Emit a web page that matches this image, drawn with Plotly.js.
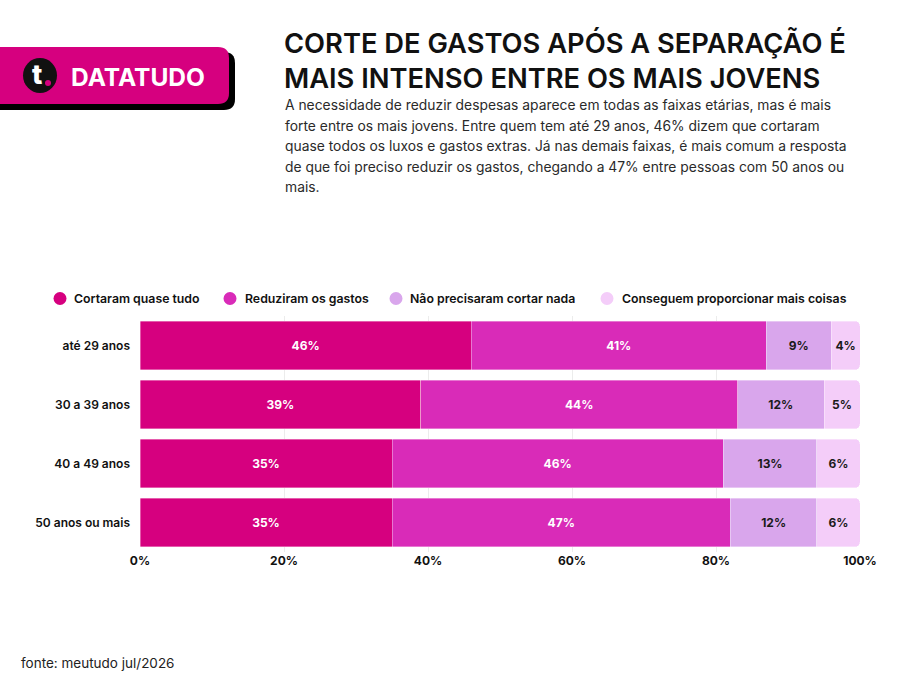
<!DOCTYPE html>
<html><head><meta charset="utf-8">
<script src="https://cdn.plot.ly/plotly-3.0.1.min.js"></script>
<style>body{margin:0;background:#fff}#chart{width:910px;height:677px}</style>
</head><body><div id="chart"></div>
<script>
const categories = ["até 29 anos", "30 a 39 anos", "40 a 49 anos", "50 anos ou mais"];
const seriesNames = ["Cortaram quase tudo", "Reduziram os gastos", "Não precisaram cortar nada", "Conseguem proporcionar mais coisas"];
const cortaram = [46, 39, 35, 35];
const reduziram = [41, 44, 46, 47];
const naoPrecisaram = [9, 12, 13, 12];
const conseguem = [4, 5, 6, 6];
const xTickVals = [0, 20, 40, 60, 80, 100];
const xTickText = ["0%", "20%", "40%", "60%", "80%", "100%"];
const titleText = "CORTE DE GASTOS APÓS A SEPARAÇÃO É<br>MAIS INTENSO ENTRE OS MAIS JOVENS";
const subtitleLines = [
  "A necessidade de reduzir despesas aparece em todas as faixas etárias, mas é mais",
  "forte entre os mais jovens. Entre quem tem até 29 anos, 46% dizem que cortaram",
  "quase todos os luxos e gastos extras. Já nas demais faixas, é mais comum a resposta",
  "de que foi preciso reduzir os gastos, chegando a 47% entre pessoas com 50 anos ou",
  "mais."
];
const sourceText = "fonte: meutudo jul/2026";
const brandText = "DATATUDO";

const colors = ["#D6007F", "#D92BB8", "#D9A6EC", "#F4CDF9"];
const textColors = ["#ffffff", "#ffffff", "#1a1a1a", "#1a1a1a"];
const allSeries = [cortaram, reduziram, naoPrecisaram, conseguem];

const W = 910, H = 677, ML = 140, MR = 50, MT = 316, MB = 125;
const PW = W - ML - MR, PH = H - MT - MB;
const xp = px => (px - ML) / PW;
const yp = py => (H - MB - py) / PH;

const FONT = "Inter, 'Noto Sans', sans-serif";

const traces = allSeries.map((vals, i) => ({
  type: "bar",
  orientation: "h",
  name: seriesNames[i],
  y: categories,
  x: vals,
  text: vals.map(v => v + "%"),
  textposition: "inside",
  insidetextanchor: "middle",
  textangle: 0,
  constraintext: "none",
  textfont: {family: FONT, size: 12, color: textColors[i], weight: 700},
  marker: {color: colors[i], line: {color: "rgba(255,255,255,0.6)", width: 0.6}},
  hoverinfo: "skip",
  showlegend: false
}));

const shapes = [];
const annotations = [];

function rrectPath(x0, y0, x1, y1, r) {
  const X = v => xp(v), Y = v => yp(v);
  return `M ${X(x0)} ${Y(y0)} L ${X(x1 - r)} ${Y(y0)} Q ${X(x1)} ${Y(y0)} ${X(x1)} ${Y(y0 + r)} L ${X(x1)} ${Y(y1 - r)} Q ${X(x1)} ${Y(y1)} ${X(x1 - r)} ${Y(y1)} L ${X(x0)} ${Y(y1)} Z`;
}
shapes.push({type: "path", xref: "paper", yref: "paper", path: rrectPath(-10, 52, 235, 110, 11), fillcolor: "#000", line: {width: 0}, layer: "above"});
shapes.push({type: "path", xref: "paper", yref: "paper", path: rrectPath(-10, 47, 229, 104, 11), fillcolor: "#D6007F", line: {width: 0}, layer: "above"});
shapes.push({type: "circle", xref: "paper", yref: "paper", x0: xp(23), x1: xp(57), y0: yp(58), y1: yp(93), fillcolor: "#111", line: {width: 0}, layer: "above"});
shapes.push({type: "circle", xref: "paper", yref: "paper", x0: xp(45), x1: xp(51), y0: yp(80), y1: yp(86), fillcolor: "#D6007F", line: {width: 0}, layer: "above"});
annotations.push({xref: "paper", yref: "paper", x: xp(37), y: yp(75), text: "t", showarrow: false, xanchor: "center", yanchor: "middle", font: {family: FONT, size: 27, color: "#fff", weight: 800}});
annotations.push({xref: "paper", yref: "paper", x: xp(69), y: yp(77), text: brandText, showarrow: false, xanchor: "left", yanchor: "middle", font: {family: FONT, size: 24.5, color: "#fff", weight: 700}});

annotations.push({xref: "paper", yref: "paper", x: xp(282), y: yp(25), text: titleText, showarrow: false, xanchor: "left", yanchor: "top", align: "left", font: {family: FONT, size: 27.3, color: "#111", weight: 600}});
subtitleLines.forEach((ln, i) => {
  annotations.push({xref: "paper", yref: "paper", x: xp(283), y: yp(105 + i * 20.6), text: ln, showarrow: false, xanchor: "left", yanchor: "middle", align: "left", font: {family: FONT, size: 13.85, color: "#2a2a2a", weight: 400}});
});

const legendCircleX = [60, 230, 396, 607];
const legendTextX = [72, 243, 408, 620];
seriesNames.forEach((n, i) => {
  shapes.push({type: "circle", xref: "paper", yref: "paper", x0: xp(legendCircleX[i] - 6.5), x1: xp(legendCircleX[i] + 6.5), y0: yp(292), y1: yp(305), fillcolor: colors[i], line: {width: 0}});
  annotations.push({xref: "paper", yref: "paper", x: xp(legendTextX[i]), y: yp(298), text: n, showarrow: false, xanchor: "left", yanchor: "middle", font: {family: FONT, size: 12.3, color: "#111", weight: 600}});
});

annotations.push({xref: "paper", yref: "paper", x: xp(19), y: yp(663), text: sourceText, showarrow: false, xanchor: "left", yanchor: "middle", font: {family: FONT, size: 13.5, color: "#222"}});

const layout = {
  width: W, height: H,
  margin: {l: ML, r: MR, t: MT, b: MB, pad: 0},
  paper_bgcolor: "#fff", plot_bgcolor: "#fff",
  barmode: "stack",
  bargap: 0.17,
  barcornerradius: 5,
  showlegend: false,
  font: {family: FONT, color: "#111"},
  xaxis: {range: [0, 100], tickvals: xTickVals, ticktext: xTickText, showgrid: true, gridcolor: "#ececec", gridwidth: 1, zeroline: false, showline: false, ticks: "", fixedrange: true,
    tickfont: {family: FONT, size: 12, color: "#111", weight: 700}},
  yaxis: {autorange: "reversed", showgrid: false, zeroline: false, showline: false, ticks: "", ticklabelstandoff: 9,
    tickfont: {family: FONT, size: 12, color: "#111", weight: 600}},
  shapes: shapes,
  annotations: annotations
};

Plotly.newPlot("chart", traces, layout, {displayModeBar: false, staticPlot: true});
</script>
</body></html>
